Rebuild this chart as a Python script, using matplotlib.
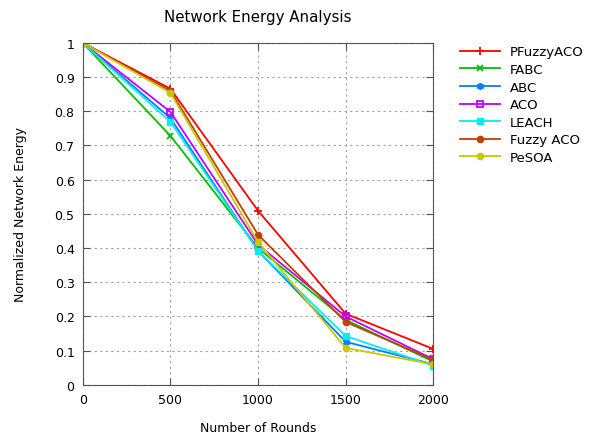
import numpy as np
import matplotlib
matplotlib.use("Agg")
import matplotlib.pyplot as plt

# data
rounds = [0, 500, 1000, 1500, 2000]
pfuzzyaco = [1.0, 0.866, 0.509, 0.208, 0.105]
fabc = [1.0, 0.728, 0.400, 0.190, 0.068]
abc = [1.0, 0.780, 0.392, 0.126, 0.060]
aco = [1.0, 0.798, 0.410, 0.200, 0.075]
leach = [1.0, 0.769, 0.392, 0.143, 0.056]
fuzzy_aco = [1.0, 0.860, 0.439, 0.184, 0.073]
pesoa = [1.0, 0.854, 0.418, 0.108, 0.060]

plt.rcParams['font.size'] = 9
plt.rcParams['font.family'] = ['DejaVu Sans']

fig = plt.figure(figsize=(5.96, 4.39), dpi=100)
ax = fig.add_axes([0.139, 0.121, 0.588, 0.779])

ax.plot(rounds, pfuzzyaco, color='#ff0000', marker='+', ms=6, mew=1.3, lw=1.3, label='PFuzzyACO')
ax.plot(rounds, fabc, color='#00c000', marker='x', ms=5, mew=1.3, lw=1.3, label='FABC')
ax.plot(rounds, abc, color='#0080ff', marker=(6, 2, 0), ms=5, mew=1.3, lw=1.3, label='ABC')
ax.plot(rounds, aco, color='#c000ff', marker='s', ms=4.5, mfc='none', mew=1.3, lw=1.3, label='ACO')
ax.plot(rounds, leach, color='#00eeee', marker='s', ms=5, lw=1.3, label='LEACH')
ax.plot(rounds, fuzzy_aco, color='#c04000', marker='o', ms=4.5, lw=1.3, label='Fuzzy ACO')
ax.plot(rounds, pesoa, color='#c8c800', marker='o', ms=4.5, lw=1.3, label='PeSOA')

ax.set_xlim(0, 2000)
ax.set_ylim(0, 1)
ax.set_xticks(rounds)
ax.set_yticks(np.arange(0, 1.01, 0.1))
ax.set_yticklabels(['0', '0.1', '0.2', '0.3', '0.4', '0.5', '0.6', '0.7', '0.8', '0.9', '1'])
ax.grid(True, color='#a0a0a0', linestyle=(0, (2, 3)), lw=0.8)
ax.tick_params(direction='in', top=True, right=True, length=5, color='#555555', pad=6)
for s in ax.spines.values():
    s.set_color('#555555')

ax.set_title('Network Energy Analysis', pad=16)
ax.set_xlabel('Number of Rounds', labelpad=11)
ax.set_ylabel('Normalized Network Energy', labelpad=20)

ax.legend(loc='upper left', bbox_to_anchor=(1.05, 1.02), frameon=False,
          handlelength=3.0, labelspacing=0.35, fontsize=9.5, borderaxespad=0.3)

fig.savefig('out.png', dpi=100)
